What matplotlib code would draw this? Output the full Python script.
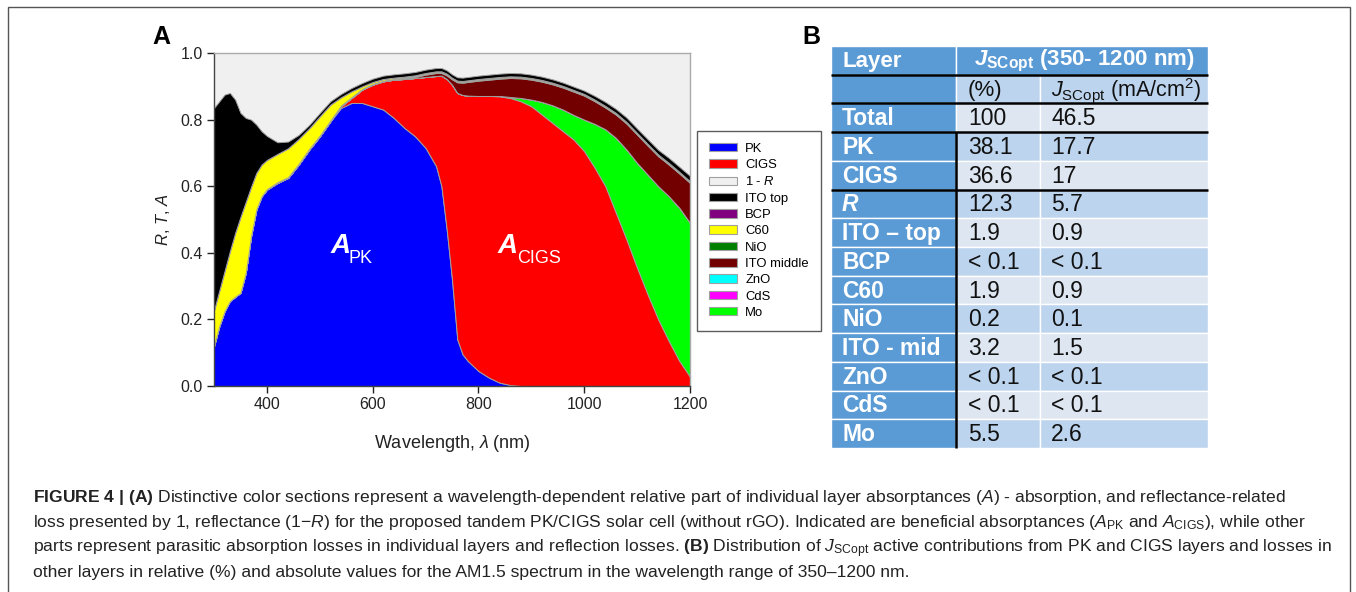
import matplotlib
matplotlib.use('Agg')
import matplotlib.pyplot as plt
from matplotlib.patches import Rectangle, Patch
import numpy as np

plt.rcParams['font.family'] = ['Liberation Sans', 'DejaVu Sans']
plt.rcParams['mathtext.fontset'] = 'custom'
plt.rcParams['mathtext.rm'] = 'Liberation Sans'
plt.rcParams['mathtext.it'] = 'Liberation Sans:italic'
plt.rcParams['mathtext.bf'] = 'Liberation Sans:bold'
plt.rcParams['mathtext.bfit'] = 'Liberation Sans:bold:italic'
plt.rcParams['mathtext.sf'] = 'Liberation Sans'

# ---------------- data (panel A): layer absorptances ----------------
wavelength = [300, 310, 320, 330, 340, 350, 360, 370, 380, 390, 400,
              420, 440, 460, 480, 500, 520, 540, 560, 580, 600, 620, 640, 660, 680, 700, 720,
              730, 740, 750, 760, 770,
              780, 800, 820, 840, 860, 880, 900, 920, 940, 960, 980, 1000, 1020, 1040,
              1060, 1080, 1100, 1120, 1140, 1160, 1180, 1200]

pk = [0.12, 0.18, 0.225, 0.255, 0.268, 0.28, 0.34, 0.45, 0.53, 0.57, 0.59,
      0.61, 0.625, 0.665, 0.71, 0.75, 0.795, 0.835, 0.85, 0.85, 0.84, 0.83, 0.805, 0.775, 0.75, 0.715, 0.66,
      0.60, 0.47, 0.32, 0.14, 0.095,
      0.075, 0.045, 0.025, 0.01, 0.003, 0.0, 0.0, 0.0, 0.0, 0.0, 0.0, 0.0, 0.0, 0.0,
      0.0, 0.0, 0.0, 0.0, 0.0, 0.0, 0.0, 0.0]

cigs = [0.0, 0.0, 0.0, 0.0, 0.0, 0.0, 0.0, 0.0, 0.0, 0.0, 0.0,
        0.0, 0.0, 0.0, 0.0, 0.0, 0.0, 0.005, 0.015, 0.04, 0.065, 0.085, 0.115, 0.147, 0.175, 0.213, 0.271,
        0.332, 0.452, 0.585, 0.74, 0.779,
        0.797, 0.826, 0.846, 0.86, 0.862, 0.855, 0.84, 0.815, 0.79, 0.765, 0.74, 0.705, 0.655, 0.60,
        0.52, 0.44, 0.355, 0.275, 0.20, 0.135, 0.075, 0.028]

mo = [0.0, 0.0, 0.0, 0.0, 0.0, 0.0, 0.0, 0.0, 0.0, 0.0, 0.0,
      0.0, 0.0, 0.0, 0.0, 0.0, 0.0, 0.0, 0.0, 0.0, 0.0, 0.0, 0.0, 0.0, 0.0, 0.0, 0.0,
      0.0, 0.0, 0.0, 0.0, 0.0,
      0.0, 0.0, 0.0, 0.001, 0.003, 0.01, 0.02, 0.038, 0.053, 0.065, 0.074, 0.095, 0.132, 0.171,
      0.225, 0.27, 0.315, 0.36, 0.40, 0.435, 0.46, 0.462]

cds = [0.0, 0.0, 0.0, 0.0, 0.0, 0.0, 0.0, 0.0, 0.0, 0.0, 0.0,
       0.0, 0.0, 0.0, 0.0, 0.0, 0.0, 0.0, 0.0, 0.0, 0.0, 0.0, 0.0, 0.0, 0.0, 0.0, 0.0,
       0.0, 0.0, 0.0, 0.0, 0.0,
       0.0, 0.0, 0.0, 0.0, 0.0, 0.0, 0.0, 0.0, 0.0, 0.0, 0.0, 0.0, 0.0, 0.0,
       0.0, 0.0, 0.0, 0.0, 0.0, 0.0, 0.0, 0.0]

zno = [0.0, 0.0, 0.0, 0.0, 0.0, 0.0, 0.0, 0.0, 0.0, 0.0, 0.0,
       0.0, 0.0, 0.0, 0.0, 0.0, 0.0, 0.0, 0.0, 0.0, 0.0, 0.0, 0.0, 0.0, 0.0, 0.0, 0.0,
       0.0, 0.0, 0.0, 0.0, 0.0,
       0.0, 0.0, 0.0, 0.0, 0.0, 0.0, 0.0, 0.0, 0.0, 0.0, 0.0, 0.0, 0.0, 0.0,
       0.0, 0.0, 0.0, 0.0, 0.0, 0.0, 0.0, 0.0]

ito_mid = [0.0, 0.0, 0.0, 0.0, 0.0, 0.0, 0.0, 0.0, 0.0, 0.0, 0.0,
           0.0, 0.0, 0.0, 0.0, 0.0, 0.0, 0.0, 0.0, 0.0, 0.0, 0.0, 0.0, 0.002, 0.003, 0.007, 0.009,
           0.008, 0.011, 0.016, 0.032, 0.037,
           0.041, 0.046, 0.049, 0.052, 0.057, 0.059, 0.06, 0.061, 0.063, 0.066, 0.07, 0.072, 0.068, 0.065,
           0.07, 0.078, 0.085, 0.087, 0.09, 0.095, 0.103, 0.12]

nio = [0.0, 0.0, 0.0, 0.0, 0.0, 0.0, 0.0, 0.0, 0.0, 0.0, 0.001,
       0.002, 0.002, 0.002, 0.002, 0.002, 0.002, 0.002, 0.002, 0.002, 0.002, 0.002, 0.002, 0.002, 0.002, 0.002, 0.002,
       0.002, 0.002, 0.002, 0.002, 0.002,
       0.002, 0.002, 0.002, 0.002, 0.002, 0.002, 0.002, 0.002, 0.002, 0.002, 0.002, 0.002, 0.002, 0.002,
       0.002, 0.002, 0.002, 0.002, 0.002, 0.002, 0.002, 0.002]

c60 = [0.108, 0.107, 0.121, 0.15, 0.192, 0.228, 0.213, 0.148, 0.11, 0.095, 0.088,
       0.085, 0.087, 0.075, 0.062, 0.058, 0.048, 0.025, 0.018, 0.008, 0.006, 0.005, 0.004, 0.003, 0.003, 0.003, 0.003,
       0.003, 0.003, 0.003, 0.003, 0.003,
       0.003, 0.003, 0.003, 0.003, 0.003, 0.003, 0.003, 0.003, 0.003, 0.003, 0.003, 0.003, 0.003, 0.003,
       0.003, 0.003, 0.003, 0.003, 0.003, 0.003, 0.003, 0.003]

bcp = [0.0, 0.0, 0.0, 0.0, 0.0, 0.0, 0.0, 0.0, 0.0, 0.0, 0.0,
       0.0, 0.0, 0.0, 0.0, 0.0, 0.0, 0.0, 0.0, 0.0, 0.0, 0.0, 0.0, 0.0, 0.0, 0.0, 0.0,
       0.0, 0.0, 0.0, 0.0, 0.0,
       0.0, 0.0, 0.0, 0.0, 0.0, 0.0, 0.0, 0.0, 0.0, 0.0, 0.0, 0.0, 0.0, 0.0,
       0.0, 0.0, 0.0, 0.0, 0.0, 0.0, 0.0, 0.0]

ito_top = [0.607, 0.568, 0.529, 0.475, 0.40, 0.312, 0.252, 0.202, 0.145, 0.10, 0.072,
           0.035, 0.02, 0.012, 0.01, 0.01, 0.01, 0.01, 0.01, 0.01, 0.01, 0.01, 0.01, 0.01, 0.01, 0.01, 0.01,
           0.01, 0.01, 0.01, 0.01, 0.01,
           0.01, 0.01, 0.01, 0.01, 0.01, 0.01, 0.01, 0.01, 0.01, 0.01, 0.01, 0.01, 0.011, 0.012,
           0.012, 0.013, 0.013, 0.014, 0.014, 0.015, 0.015, 0.016]

legend_labels = ['PK', 'CIGS', '1 - $\\mathit{R}$', 'ITO top', 'BCP', 'C60', 'NiO',
                 'ITO middle', 'ZnO', 'CdS', 'Mo']
legend_colors = ['#0000ff', '#ff0000', '#f0f0f0', '#000000', '#800080', '#ffff00',
                 '#008000', '#720000', '#00ffff', '#ff00ff', '#00ff00']

x_ticks = [400, 600, 800, 1000, 1200]
y_ticks = [0.0, 0.2, 0.4, 0.6, 0.8, 1.0]

# ---------------- data (panel B): table ----------------
layers = ['Total', 'PK', 'CIGS', 'R', 'ITO \u2013 top', 'BCP', 'C60', 'NiO',
          'ITO - mid', 'ZnO', 'CdS', 'Mo']
jsc_percent = ['100', '38.1', '36.6', '12.3', '1.9', '< 0.1', '1.9', '0.2', '3.2',
               '< 0.1', '< 0.1', '5.5']
jsc_current = ['46.5', '17.7', '17', '5.7', '0.9', '< 0.1', '0.9', '0.1', '1.5',
               '< 0.1', '< 0.1', '2.6']

caption_lines = [
    r'$\mathbf{FIGURE\ 4\ |\ (A)}$ Distinctive color sections represent a wavelength-dependent relative part of individual layer absorptances $\mathit{(A)}$ - absorption, and reflectance-related',
    r'loss presented by 1, reflectance (1$-\mathit{R}$) for the proposed tandem PK/CIGS solar cell (without rGO). Indicated are beneficial absorptances ($\mathit{A}_{\mathrm{PK}}$ and $\mathit{A}_{\mathrm{CIGS}}$), while other',
    r'parts represent parasitic absorption losses in individual layers and reflection losses. $\mathbf{(B)}$ Distribution of $\mathit{J}_{\mathrm{SCopt}}$ active contributions from PK and CIGS layers and losses in',
    'other layers in relative (%) and absolute values for the AM1.5 spectrum in the wavelength range of 350\u20131200 nm.',
]

# ---------------- figure ----------------
W, H = 1356, 592
fig = plt.figure(figsize=(W / 100, H / 100), dpi=100)
fig.patch.set_facecolor('white')

# overlay in pixel coordinates (frame, table, caption)
ov = fig.add_axes([0, 0, 1, 1])
ov.set_xlim(0, W)
ov.set_ylim(H, 0)
ov.axis('off')
ov.patch.set_alpha(0)
ov.add_patch(Rectangle((8, 7), 1342, 600, fill=False, edgecolor='#555555', lw=1.0))

# ---------------- panel A ----------------
ax = fig.add_axes([214 / W, 1 - 386 / H, 476 / W, 333 / H])
ax.set_zorder(2)
ax.set_facecolor('#f0f0f0')
stack = [pk, cigs, mo, cds, zno, ito_mid, nio, c60, bcp, ito_top]
stack_colors = ['#0000ff', '#ff0000', '#00ff00', '#ff00ff', '#00ffff', '#720000',
                '#008000', '#ffff00', '#800080', '#000000']
ax.stackplot(wavelength, *stack, colors=stack_colors, edgecolor='#a0a0a0', linewidth=0.7)
ax.set_xlim(300, 1200)
ax.set_ylim(0, 1.0)
ax.set_xticks(x_ticks)
ax.set_yticks(y_ticks)
ax.set_yticklabels([f'{v:.1f}' for v in y_ticks])
ax.tick_params(direction='out', length=5, width=1, labelsize=11.5, colors='#222222',
               pad=3)
for s in ['left', 'bottom']:
    ax.spines[s].set_color('#444444')
    ax.spines[s].set_linewidth(1.0)
for s in ['top', 'right']:
    ax.spines[s].set_color('#aaaaaa')
    ax.spines[s].set_linewidth(1.0)
ax.set_xlabel('Wavelength, $\\mathit{\\lambda}$ (nm)', fontsize=13, labelpad=15, color='#222222')
ax.set_ylabel('$\\mathit{R}$, $\\mathit{T}$, $\\mathit{A}$', fontsize=12, labelpad=6, color='#222222')

ax.text(520, 0.40, 'A', color='white', fontsize=20, fontweight='bold', fontstyle='italic')
ax.text(554, 0.37, 'PK', color='white', fontsize=13)
ax.text(837, 0.40, 'A', color='white', fontsize=20, fontweight='bold', fontstyle='italic')
ax.text(873, 0.37, 'CIGS', color='white', fontsize=13)

handles = [Patch(facecolor=c, edgecolor='#a0a0a0', linewidth=0.8) for c in legend_colors]
leg = fig.legend(handles, legend_labels, loc='upper left',
                 bbox_to_anchor=(697 / W, 1 - 131 / H), fontsize=9.4,
                 frameon=True, fancybox=False, borderpad=0.9, labelspacing=0.33,
                 handlelength=2.2, handleheight=0.62, handletextpad=0.6,
                 borderaxespad=0)
leg.get_frame().set_edgecolor('#333333')
leg.get_frame().set_linewidth(1.0)

ov.text(152, 44, 'A', fontsize=18, fontweight='bold', va='baseline')
ov.text(802, 44, 'B', fontsize=18, fontweight='bold', va='baseline')

# ---------------- panel B: table ----------------
dark = '#5b9bd5'
mid = '#bdd4ee'
light = '#dde6f1'
col_x = [831, 956, 1040, 1208]
n_rows = 2 + len(layers)
row_h = (448 - 46) / n_rows
row_y = [46 + i * row_h for i in range(n_rows + 1)]

def cell(c0, c1, r, color):
    ov.add_patch(Rectangle((col_x[c0], row_y[r]), col_x[c1] - col_x[c0], row_h,
                           facecolor=color, edgecolor='white', lw=1.0))

def ctext(x, r, s, **kw):
    ov.text(x, row_y[r] + row_h / 2 + 1, s, va='center', ha='left', **kw)

# header row 0
cell(0, 1, 0, dark)
cell(1, 3, 0, dark)
ctext(842, 0, 'Layer', color='white', fontsize=16, fontweight='bold')
ctext(974, 0, r'$\mathbfit{J}_{\mathbf{SCopt}}$ (350- 1200 nm)', color='white',
      fontsize=16, fontweight='bold')
# header row 1
cell(0, 1, 1, dark)
cell(1, 2, 1, mid)
cell(2, 3, 1, mid)
ctext(968, 1, '(%)', color='#111111', fontsize=16)
ctext(1051, 1, r'$\mathit{J}_{\mathrm{SCopt}}$ (mA/cm$^{2}$)', color='#111111', fontsize=15.5)

for i, (lay, p, j) in enumerate(zip(layers, jsc_percent, jsc_current)):
    r = i + 2
    band = light if i % 2 == 0 else mid
    cell(0, 1, r, dark)
    cell(1, 2, r, band)
    cell(2, 3, r, band)
    style = 'italic' if lay == 'R' else 'normal'
    ctext(842, r, lay, color='white', fontsize=16.5, fontweight='bold', fontstyle=style)
    ctext(968, r, p, color='#111111', fontsize=16.5)
    ctext(1051, r, j, color='#111111', fontsize=16.5)

for r in [1, 2, 3, 5]:
    ov.plot([col_x[0], col_x[3]], [row_y[r], row_y[r]], color='black', lw=1.8,
            solid_capstyle='butt')
ov.plot([col_x[1], col_x[1]], [row_y[3], row_y[-1]], color='black', lw=1.8,
        solid_capstyle='butt')

# ---------------- caption ----------------
for k, line in enumerate(caption_lines):
    ov.text(33, 502 + 25 * k, line, fontsize=12.6, va='baseline', ha='left', color='#222222')

fig.savefig('out.png', dpi=100, facecolor='white')
